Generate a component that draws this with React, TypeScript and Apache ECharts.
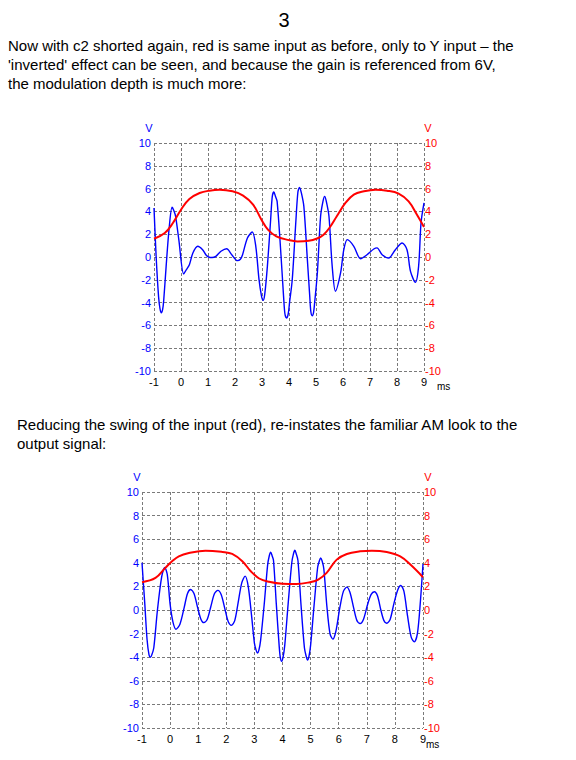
import React, { useEffect, useRef } from "react";
import * as echarts from "echarts";

// ---------- data ----------
const xTicks = [-1, 0, 1, 2, 3, 4, 5, 6, 7, 8, 9];
const yRange = [-10, 10];

// Chart 1: output (blue) and input (red), [ms, V]
const outputTop: number[][] = [
  [-1, 4.3], [-0.92, 0.0], [-0.83, -3.5], [-0.78, -4.5], [-0.73, -4.9], [-0.68, -4.6],
  [-0.64, -3.8], [-0.55, -0.8],
  [-0.44, 2.5], [-0.33, 4.36], [-0.27, 4.1], [-0.2, 3.57], [-0.08, 1.5], [0.1, -1.49],
  [0.2, -1.1], [0.31, -0.67], [0.44, 0.35], [0.62, 0.94], [0.8, 0.64], [0.92, 0.2],
  [1.02, 0.0], [1.15, -0.05], [1.29, 0.06], [1.48, 0.5], [1.69, 0.73], [1.88, 0.2],
  [2.09, -0.32], [2.2, -0.2], [2.28, 0.2], [2.46, 1.67], [2.64, 2.19], [2.77, 0.94],
  [2.89, -1.99], [2.98, -3.4], [3.04, -3.8], [3.1, -3.3], [3.2, -0.8], [3.32, 3.27],
  [3.38, 5.3], [3.44, 5.7], [3.5, 5.3], [3.56, 4.88],
  [3.69, 0.64], [3.8, -3.5], [3.85, -5.0], [3.91, -5.35], [3.97, -5.0], [4.02, -4.0],
  [4.12, -2.0], [4.25, 2.98],
  [4.33, 5.7], [4.39, 6.1], [4.46, 5.6], [4.55, 4.44], [4.68, -0.23], [4.77, -3.5],
  [4.81, -4.8], [4.86, -5.15], [4.91, -4.85], [4.95, -4.0],
  [5.05, -1.4], [5.17, 3.57], [5.26, 4.9], [5.32, 5.32], [5.38, 4.9], [5.48, 3.57],
  [5.6, -0.82], [5.72, -3.0],
  [5.91, -1.4], [6.03, 0.64], [6.16, 1.52], [6.4, 0.94], [6.65, -0.15], [6.89, 0.2],
  [7.14, 0.7], [7.26, 0.8], [7.45, 0.2], [7.69, -0.09], [7.94, 0.64], [8.19, 1.23],
  [8.37, 0.64], [8.5, -1.26], [8.68, -2.22], [8.8, -0.82], [8.89, 2.98], [9.0, 4.74],
];
const inputTop: number[][] = [
  [-1, 1.6], [-0.6, 2.1], [-0.3, 2.98], [0, 4.15], [0.31, 5.09], [0.69, 5.61],
  [1.05, 5.82], [1.43, 5.9], [1.91, 5.76], [2.3, 5.38], [2.67, 4.59], [2.98, 3.27],
  [3.22, 2.4], [3.53, 1.81], [4.0, 1.48], [4.31, 1.37], [4.73, 1.42], [5.04, 1.62],
  [5.28, 1.96], [5.52, 2.63], [5.77, 3.57], [6.09, 4.74], [6.4, 5.47], [6.77, 5.76],
  [7.2, 5.9], [7.63, 5.82], [8.06, 5.56], [8.43, 4.88], [8.74, 3.71], [9.0, 2.63],
];

// Chart 2: reduced input swing
const outputBottom: number[][] = [
  [-1, 4.0], [-0.9, 0.5], [-0.82, -2.5], [-0.75, -3.8], [-0.7, -4.0], [-0.65, -3.8],
  [-0.58, -3.2], [-0.45, 0.0],
  [-0.3, 2.8], [-0.19, 3.6], [-0.1, 3.0], [0.0, 0.5], [0.1, -1.0], [0.21, -1.63],
  [0.35, -1.2], [0.5, 0.2], [0.62, 1.4], [0.73, 1.74], [0.85, 1.4], [0.98, 0.2],
  [1.1, -0.8], [1.2, -1.07], [1.32, -0.8], [1.45, 0.3], [1.58, 1.4], [1.7, 1.66],
  [1.82, 1.3], [1.95, 0.1], [2.07, -1.0], [2.18, -1.3], [2.3, -0.9], [2.42, 0.6],
  [2.55, 2.3], [2.67, 2.87], [2.78, 2.0], [2.9, -0.5], [3.0, -2.8], [3.06, -3.4],
  [3.11, -3.65], [3.16, -3.4],
  [3.22, -2.6], [3.35, 0.5], [3.47, 3.8], [3.53, 4.6], [3.58, 4.9], [3.63, 4.6],
  [3.68, 4.2], [3.78, 0.5],
  [3.88, -3.0], [3.92, -4.0], [3.97, -4.35], [4.02, -4.0], [4.08, -3.0], [4.2, 0.5],
  [4.33, 4.0], [4.39, 4.75], [4.44, 5.06], [4.49, 4.75],
  [4.55, 4.2], [4.66, 0.4], [4.78, -3.2], [4.84, -3.9], [4.89, -4.24], [4.94, -3.95],
  [5.0, -3.0], [5.12, 0.3],
  [5.25, 3.6], [5.31, 4.15], [5.36, 4.41], [5.41, 4.15], [5.47, 3.5], [5.58, 0.3],
  [5.69, -2.0], [5.79, -2.47],
  [5.9, -1.8], [6.04, 0.2], [6.17, 1.6], [6.29, 1.94], [6.4, 1.5], [6.53, 0.2],
  [6.65, -0.9], [6.76, -1.15], [6.88, -0.8], [7.02, 0.4], [7.15, 1.3], [7.27, 1.55],
  [7.38, 1.2], [7.5, 0.0], [7.61, -0.9], [7.71, -1.12], [7.83, -0.8], [7.96, 0.5],
  [8.1, 1.7], [8.21, 2.08], [8.32, 1.6], [8.45, -0.5], [8.58, -2.3], [8.69, -2.7],
  [8.8, -2.0], [8.9, 0.5], [9.0, 3.9],
];
const inputBottom: number[][] = [
  [-1, 2.36], [-0.52, 2.72], [-0.17, 3.57], [0.07, 4.13], [0.31, 4.55], [0.67, 4.83],
  [1.26, 5.03], [1.86, 4.92], [2.21, 4.75], [2.57, 4.13], [2.87, 3.29], [3.17, 2.67],
  [3.52, 2.39], [4.0, 2.22], [4.5, 2.2], [4.98, 2.36], [5.27, 2.58], [5.57, 3.15],
  [5.93, 4.27], [6.29, 4.75], [6.76, 4.97], [7.18, 5.03], [7.71, 4.92], [8.19, 4.55],
  [8.55, 3.85], [9.0, 2.78],
];

const titleText = "3";
const para1 = [
  "Now with c2 shorted again, red is same input as before, only to Y input \u2013 the",
  "'inverted' effect can be seen, and because the gain is referenced from 6V,",
  "the modulation depth is much more:",
];
const para2 = [
  "Reducing the swing of the input (red), re-instates the familiar AM look to the",
  "output signal:",
];

const FONT = "'Liberation Sans', Arial, Helvetica, sans-serif";
const BLUE = "#0000ff";
const RED = "#ff0000";
const GRIDC = "#7a7a7a";

function makeXAxis(gridIndex: number) {
  return {
    type: "value" as const,
    gridIndex,
    min: xTicks[0],
    max: xTicks[xTicks.length - 1],
    interval: 1,
    axisLine: { show: false },
    axisTick: { show: false },
    axisLabel: { color: "#000", fontSize: 11, fontFamily: FONT, margin: 5 },
    splitLine: { show: true, lineStyle: { color: GRIDC, type: [3, 2], width: 1 } },
  };
}
function makeYAxis(gridIndex: number, pos: "left" | "right") {
  return {
    type: "value" as const,
    gridIndex,
    position: pos,
    min: yRange[0],
    max: yRange[1],
    interval: 2,
    axisLine: { show: false },
    axisTick: { show: false },
    axisLabel: {
      color: pos === "left" ? BLUE : RED,
      fontSize: 11,
      fontFamily: FONT,
      margin: pos === "left" ? 3 : 1,
    },
    splitLine: { show: pos === "left", lineStyle: { color: GRIDC, type: [3, 2], width: 1 } },
  };
}

export default function App() {
  const ref = useRef<HTMLDivElement>(null);
  useEffect(() => {
    if (!ref.current) return;
    const chart = echarts.init(ref.current, undefined, { renderer: "svg" });
    const mk = (t: string, x: number, y: number, size: number, color: string, align = "left") => ({
      type: "text",
      style: { text: t, x, y, fill: color, font: `${size}px ${FONT}`, align, verticalAlign: "middle" },
    });
    const gfx: any[] = [mk(titleText, 284, 20, 20, "#000", "center")];
    para1.forEach((l, i) => gfx.push(mk(l, 8, 45 + i * 19, 15, "#000")));
    para2.forEach((l, i) => gfx.push(mk(l, 17, 424 + i * 19, 15, "#000")));
    gfx.push(mk("V", 149, 128, 11, BLUE, "center"));
    gfx.push(mk("V", 428, 128, 11, RED, "center"));
    gfx.push(mk("ms", 437, 386, 10, "#000"));
    gfx.push(mk("V", 137, 477, 11, BLUE, "center"));
    gfx.push(mk("V", 428, 477, 11, RED, "center"));
    gfx.push(mk("ms", 426, 744, 10, "#000"));

    chart.setOption({
      animation: false,
      backgroundColor: "#fff",
      textStyle: { fontFamily: FONT },
      grid: [
        { left: 154, top: 143, width: 270, height: 228, containLabel: false },
        { left: 142, top: 492, width: 281, height: 236, containLabel: false },
      ],
      xAxis: [makeXAxis(0), makeXAxis(1)],
      yAxis: [makeYAxis(0, "left"), makeYAxis(0, "right"), makeYAxis(1, "left"), makeYAxis(1, "right")],
      series: [
        { type: "line", xAxisIndex: 0, yAxisIndex: 0, data: outputTop, smooth: 0.3, showSymbol: false, lineStyle: { color: BLUE, width: 1.4 } },
        { type: "line", xAxisIndex: 0, yAxisIndex: 1, data: inputTop, smooth: 0.4, showSymbol: false, lineStyle: { color: RED, width: 2 } },
        { type: "line", xAxisIndex: 1, yAxisIndex: 2, data: outputBottom, smooth: 0.3, showSymbol: false, lineStyle: { color: BLUE, width: 1.4 } },
        { type: "line", xAxisIndex: 1, yAxisIndex: 3, data: inputBottom, smooth: 0.4, showSymbol: false, lineStyle: { color: RED, width: 2 } },
      ],
      graphic: gfx,
    });
    return () => chart.dispose();
  }, []);
  return <div ref={ref} style={{ position: "absolute", left: 0, top: 0, width: 576, height: 760 }} />;
}
